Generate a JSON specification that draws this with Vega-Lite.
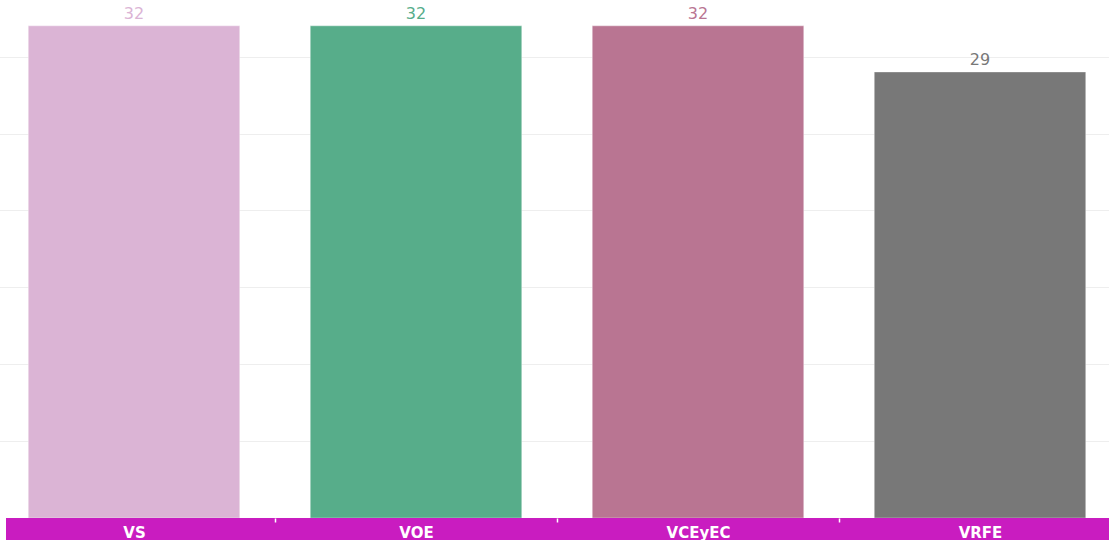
{
  "$schema": "https://vega.github.io/schema/vega-lite/v6.json",
  "width": 1103,
  "height": 540,
  "autosize": {"type": "none"},
  "padding": {"left": 6, "top": 0, "right": 0, "bottom": 0},
  "background": "white",
  "config": {"view": {"stroke": null}, "font": "DejaVu Sans"},
  "data": {"values": [
    {"cat": "VS", "value": 32},
    {"cat": "VOE", "value": 32},
    {"cat": "VCEyEC", "value": 32},
    {"cat": "VRFE", "value": 29}
  ]},
  "layer": [
    {
      "mark": {"type": "bar", "stroke": "white", "strokeWidth": 0.6, "strokeOpacity": 0.6},
      "encoding": {
        "x": {
          "field": "cat", "type": "nominal", "sort": null,
          "scale": {"range": [-13, 1115], "paddingInner": 0.25, "paddingOuter": 0.125},
          "axis": {
            "title": null, "labelAngle": 0, "offset": -22, "zindex": 2, "domain": false,
            "ticks": true, "tickOffset": 141, "tickColor": "white", "tickWidth": 1.5, "tickSize": 4,
            "labelColor": "white", "labelFontSize": 15, "labelFontWeight": "bold", "labelFont": "DejaVu Sans",
            "labelBaseline": "middle", "labelPadding": 10, "labelOffset": -141
          }
        },
        "y": {
          "field": "value", "type": "quantitative",
          "scale": {"domain": [-1.43, 33.68], "nice": false, "zero": false},
          "axis": {"title": null, "labels": false, "ticks": false, "domain": false, "values": [5, 10, 15, 20, 25, 30], "gridColor": "#eeeeee", "gridWidth": 1}
        },
        "y2": {"datum": 0},
        "color": {
          "field": "cat", "type": "nominal", "sort": null, "legend": null,
          "scale": {"domain": ["VS", "VOE", "VCEyEC", "VRFE"], "range": ["#dbb4d5", "#57ad8a", "#b97592", "#787878"]}
        }
      }
    },
    {
      "mark": {"type": "text", "dy": -12, "fontSize": 16, "font": "DejaVu Sans"},
      "encoding": {
        "x": {"field": "cat", "type": "nominal", "sort": null},
        "y": {"field": "value", "type": "quantitative"},
        "color": {"field": "cat", "type": "nominal", "sort": null, "legend": null},
        "text": {"field": "value", "type": "quantitative"}
      }
    },
    {
      "data": {"values": [{"band": "axis"}]},
      "mark": {"type": "rect", "color": "#c91cc0"},
      "encoding": {
        "y": {"datum": 0, "type": "quantitative"},
        "y2": {"datum": -1.43}
      }
    }
  ]
}
